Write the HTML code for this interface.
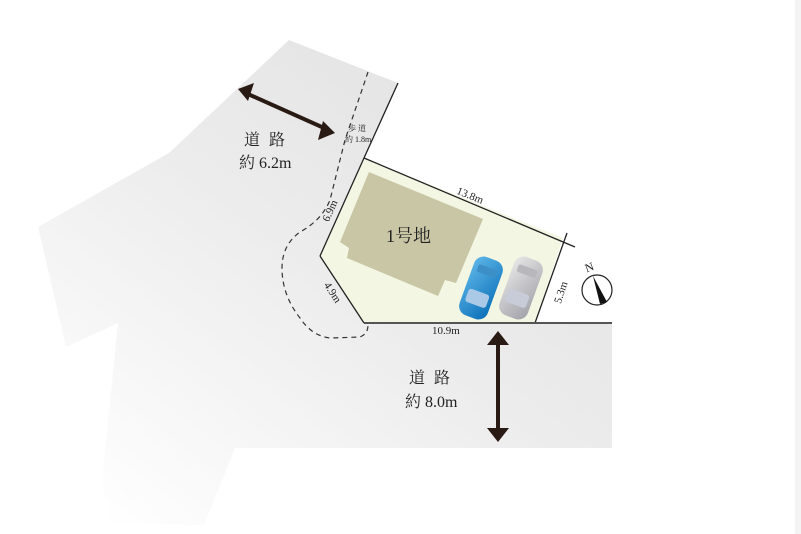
<!DOCTYPE html>
<html><head><meta charset="utf-8"><style>
html,body{margin:0;padding:0;background:#fff;}
svg{display:block;}
text{font-family:"Liberation Serif","Noto Serif CJK SC",serif;fill:#222;}
</style></head><body>
<svg width="801" height="534" viewBox="0 0 801 534">
<defs>
<linearGradient id="g" x1="0.9" y1="0.1" x2="0.1" y2="1">
<stop offset="0" stop-color="#e2e2e2"/>
<stop offset="0.45" stop-color="#ececec"/>
<stop offset="1" stop-color="#ffffff"/>
</linearGradient>
<linearGradient id="blue" x1="0" y1="0" x2="1" y2="1">
<stop offset="0" stop-color="#5fb7e8"/><stop offset="1" stop-color="#0a6fb8"/>
</linearGradient>
<linearGradient id="silv" x1="0" y1="0" x2="1" y2="1">
<stop offset="0" stop-color="#e8e8e8"/><stop offset="1" stop-color="#a0a0a8"/>
</linearGradient>
</defs>
<rect x="795" y="0" width="6" height="534" fill="#f4f4f4"/>
<path d="M289,40 L398,83 L364,158 L320,256 L364,323 L612,323 L612,448 L235,448 L204,525 L110,523 L102,480 L118,323 L66,347 L38,227 L169,153 Z" fill="url(#g)"/>
<polygon points="364,158 563,238 535,323 364,323 320,256" fill="#f3f6e3"/>
<polygon points="369,172 483,219 456,283 445,280 438,296 347,258 349,248 340,242" fill="#c9c6a5"/>
<g stroke="#222" stroke-width="1.3" fill="none">
<line x1="398" y1="83" x2="364" y2="158"/>
<line x1="364" y1="158" x2="575" y2="247"/>
<line x1="320" y1="256" x2="364" y2="158"/>
<line x1="320" y1="256" x2="364" y2="323"/>
<line x1="535" y1="323" x2="567" y2="233"/>
</g>
<line x1="364" y1="323" x2="612" y2="323" stroke="#555" stroke-width="2"/>
<path d="M368,72 L345,140 L330,200 Q322,220 300,232 Q282,245 282,268 Q282,295 300,318 Q312,336 330,338 L360,337 Q368,334 368,325" fill="none" stroke="#333" stroke-width="1.2" stroke-dasharray="5,4"/>
<!-- cars -->
<g transform="rotate(20 481 288)">
<rect x="466" y="257" width="30" height="62" rx="10" fill="url(#blue)"/>
<rect x="470" y="292" width="22" height="14" rx="3" fill="#a9c9e6"/>
<rect x="471" y="266" width="20" height="8" rx="2" fill="#3d8fc8"/>
</g>
<g transform="rotate(20 521 288)">
<rect x="506" y="257" width="30" height="62" rx="10" fill="url(#silv)"/>
<rect x="510" y="292" width="22" height="14" rx="3" fill="#c8ccd8"/>
<rect x="511" y="266" width="20" height="8" rx="2" fill="#b8b8bc"/>
</g>
<!-- compass -->
<circle cx="597" cy="290" r="15" fill="#fff" stroke="#222" stroke-width="1.2"/>
<polygon points="593,276 607,302 600,304" fill="#111"/>
<text x="585" y="271" font-size="12" transform="rotate(-20 590 267)">N</text>
<!-- arrows -->
<g stroke="#2a1a14" stroke-width="4">
<line x1="248" y1="94" x2="324" y2="128"/>
<line x1="498" y1="342" x2="498" y2="430"/>
</g>
<polygon points="238,89 254,83 248,101" fill="#2a1a14"/>
<polygon points="335,133 318,140 323,121" fill="#2a1a14"/>
<polygon points="498,331 487,345 509,345" fill="#2a1a14"/>
<polygon points="498,442 487,428 509,428" fill="#2a1a14"/>
<!-- labels -->
<text x="244" y="145" font-size="16" letter-spacing="9">道路</text>
<text x="239" y="168" font-size="16">約 6.2m</text>
<text x="409" y="383" font-size="16" letter-spacing="9">道路</text>
<text x="405" y="407" font-size="16">約 8.0m</text>
<text x="348" y="131" font-size="8" fill="#444">歩 道</text>
<text x="345" y="142" font-size="8" fill="#444">約 1.8m</text>
<text x="386" y="242" font-size="18">1号地</text>
<text x="456" y="199" font-size="11" transform="rotate(22 470 196)">13.8m</text>
<text x="320" y="215" font-size="11" transform="rotate(-66 330 212)">6.9m</text>
<text x="322" y="296" font-size="11" transform="rotate(57 333 292)">4.9m</text>
<text x="541" y="301" font-size="11" transform="rotate(-72 553 289)">5.3m</text>
<text x="432" y="334" font-size="11">10.9m</text>
</svg>
</body></html>
